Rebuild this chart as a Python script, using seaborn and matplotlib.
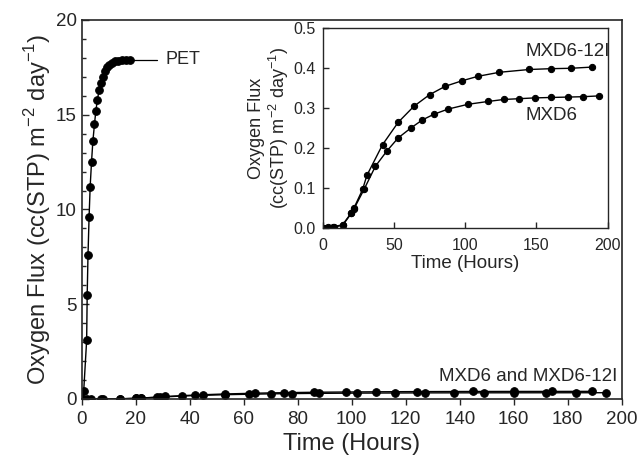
import numpy as np
import pandas as pd
import seaborn as sns
import matplotlib.pyplot as plt
from matplotlib.ticker import MultipleLocator

# PET permeation (hours, flux)
pet_time = [0, 0.7, 1.8, 2.0, 2.3, 2.7, 3.1, 3.6, 4.1, 4.7, 5.2, 5.8, 6.4,
            7.0, 7.7, 8.5, 9.3, 10.2, 11.2, 12.3, 13.5, 14.8, 16.2, 17.7]
pet_flux = [0, 0.4, 3.1, 5.5, 7.6, 9.6, 11.2, 12.5, 13.6, 14.5, 15.2, 15.8, 16.3,
            16.7, 17.0, 17.3, 17.5, 17.65, 17.75, 17.82, 17.86, 17.88, 17.9, 17.9]

# MXD6-12I
mxd12_time = [0, 3.5, 8, 14, 20, 22, 28, 31, 42, 53, 64, 75, 86, 98, 109,
              124, 145, 160, 174, 189]
mxd12_flux = [0, 0.003, 0.003, 0.008, 0.037, 0.05, 0.096, 0.131, 0.208, 0.264,
              0.304, 0.333, 0.354, 0.368, 0.379, 0.389, 0.396, 0.398, 0.399, 0.402]

# MXD6
mxd6_time = [0, 2, 7, 14, 20, 22, 29, 37, 45, 53, 62, 70, 78, 88, 102, 116,
             127, 138, 149, 160, 172, 183, 194]
mxd6_flux = [0, 0.0, 0.002, 0.006, 0.036, 0.048, 0.096, 0.154, 0.192, 0.225,
             0.25, 0.27, 0.284, 0.297, 0.309, 0.316, 0.321, 0.323, 0.325, 0.326,
             0.327, 0.328, 0.33]

sns.set_style('ticks')
plt.rcParams['font.family'] = ['Liberation Sans', 'DejaVu Sans']
plt.rcParams['mathtext.fontset'] = 'custom'
plt.rcParams['mathtext.rm'] = 'Liberation Sans'

fig = plt.figure(figsize=(6.39, 4.65), dpi=100)
ax = fig.add_axes([0.128, 0.142, 0.845, 0.815])

line_kw = dict(color='black', marker='o', markersize=5.5, markeredgecolor='black',
               linewidth=1.0, estimator=None, sort=False)
sns.lineplot(x=pet_time, y=pet_flux, ax=ax, **line_kw)
sns.lineplot(x=mxd12_time, y=mxd12_flux, ax=ax, **line_kw)
sns.lineplot(x=mxd6_time, y=mxd6_flux, ax=ax, **line_kw)

ax.set_xlim(0, 200)
ax.set_ylim(0, 20)
ax.set_xticks(np.arange(0, 201, 20))
ax.set_yticks([0, 5, 10, 15, 20])
ax.yaxis.set_minor_locator(MultipleLocator(1))
ax.tick_params(axis='x', direction='out', labelsize=13.5, width=1, length=4, pad=5)
ax.tick_params(axis='y', which='both', direction='in', labelsize=13.5, width=1)
ax.tick_params(axis='y', which='major', length=5)
ax.tick_params(axis='y', which='minor', length=3)
for s in ax.spines.values():
    s.set_linewidth(1.2)
    s.set_visible(True)
ax.set_xlabel('Time (Hours)', fontsize=17, labelpad=3)
ax.set_ylabel('Oxygen Flux (cc(STP) m$^{-2}$ day$^{-1}$)', fontsize=17, labelpad=2)

# labels on the main plot
ax.plot([18, 28], [17.9, 17.9], color='black', linewidth=0.9)
ax.text(31, 17.9, 'PET', fontsize=13, va='center', ha='left')
ax.text(198.5, 0.75, 'MXD6 and MXD6-12I', fontsize=13.5, va='bottom', ha='right')

# inset
ins = fig.add_axes([0.505, 0.510, 0.446, 0.430])
in_kw = dict(color='black', marker='o', markersize=4.5, markeredgecolor='black',
             linewidth=1.0, estimator=None, sort=False)
sns.lineplot(x=mxd12_time, y=mxd12_flux, ax=ins, **in_kw)
sns.lineplot(x=mxd6_time, y=mxd6_flux, ax=ins, **in_kw)
ins.set_xlim(0, 200)
ins.set_ylim(0, 0.5)
ins.set_xticks([0, 50, 100, 150, 200])
ins.set_yticks([0.0, 0.1, 0.2, 0.3, 0.4, 0.5])
ins.set_yticklabels(['0.0', '0.1', '0.2', '0.3', '0.4', '0.5'])
ins.tick_params(direction='in', labelsize=11.5, length=4, width=1, pad=5)
ins.tick_params(axis='x', pad=7)
for s in ins.spines.values():
    s.set_linewidth(1.0)
    s.set_visible(True)
ins.set_xlabel('Time (Hours)', fontsize=13.5, labelpad=2)
ins.set_ylabel('Oxygen Flux\n(cc(STP) m$^{-2}$ day$^{-1}$)', fontsize=13,
               linespacing=1.1, labelpad=2)
ins.text(172, 0.44, 'MXD6-12I', fontsize=13.5, ha='center', va='center')
ins.text(142, 0.28, 'MXD6', fontsize=13.5, ha='left', va='center')

fig.savefig('out.png', dpi=100)
